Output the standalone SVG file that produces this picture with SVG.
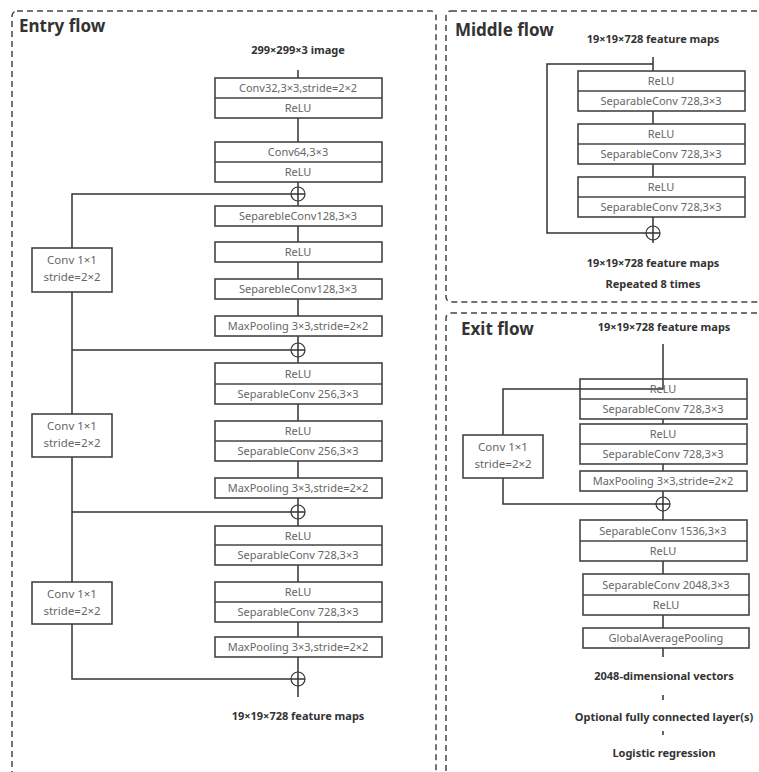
<svg xmlns="http://www.w3.org/2000/svg" width="759" height="772" viewBox="0 0 759 772">
  <style>
    .panel { fill: none; stroke: #444; stroke-width: 1.5; stroke-dasharray: 6 4; }
    .title { font-family: "Noto Sans", "Open Sans", sans-serif; font-weight: bold; font-size: 17px; fill: #333; }
    .lbl { font-family: "Noto Sans", "Open Sans", sans-serif; font-weight: bold; font-size: 11px; fill: #333; text-anchor: middle; }
    .box { fill: #fff; stroke: #444; stroke-width: 1.6; }
    .sep { stroke: #444; stroke-width: 1.6; }
    .t { font-family: "Noto Sans", "Open Sans", sans-serif; font-size: 11px; fill: #666; text-anchor: middle; }
    .t2 { font-family: "Noto Sans", "Open Sans", sans-serif; font-size: 11.5px; fill: #666; text-anchor: middle; }
    .wire { fill: none; stroke: #333; stroke-width: 1.5; }
    .add { fill: none; stroke: #333; stroke-width: 1.2; }
  </style>

  <!-- panels -->
  <rect class="panel" x="12" y="11" width="424" height="800" rx="5"/>
  <rect class="panel" x="446" y="11" width="330" height="291" rx="5"/>
  <rect class="panel" x="446" y="313" width="330" height="500" rx="5"/>

  <text class="title" x="19" y="32">Entry flow</text>
  <text class="title" x="455" y="36">Middle flow</text>
  <text class="title" x="461" y="335">Exit flow</text>

  <text class="lbl" x="298" y="54">299×299×3 image</text>
  <text class="lbl" x="298" y="720">19×19×728 feature maps</text>
  <text class="lbl" x="653" y="43">19×19×728 feature maps</text>
  <text class="lbl" x="653" y="267">19×19×728 feature maps</text>
  <text class="lbl" x="653" y="288">Repeated 8 times</text>
  <text class="lbl" x="664" y="331">19×19×728 feature maps</text>
  <text class="lbl" x="664" y="680">2048-dimensional vectors</text>
  <text class="lbl" x="664" y="721">Optional fully connected layer(s)</text>
  <text class="lbl" x="664" y="757">Logistic regression</text>

  <!-- connectors -->
  <g id="connectors">
    <!-- entry main column -->
    <path class="wire" d="M298 70V78 M298 118V142 M298 182V206 M298 226V242 M298 262V279 M298 299V316 M298 336V363 M298 404V421 M298 461V478 M298 498V526 M298 565V582 M298 622V637 M298 657V697"/>
    <!-- entry shortcuts -->
    <path class="wire" d="M305 194H72V248 M72 292V350H305 M72 350V414 M72 457V512H305 M72 512V582 M72 624V679H305"/>
    <circle class="add" cx="298" cy="194" r="7"/>
    <circle class="add" cx="298" cy="350" r="7"/>
    <circle class="add" cx="298" cy="512" r="7"/>
    <circle class="add" cx="298" cy="679" r="7"/>

    <!-- middle -->
    <path class="wire" d="M653 57V71 M653 111V124 M653 164V177 M653 217V243"/>
    <path class="wire" d="M653 64H547V233H660"/>
    <circle class="add" cx="653" cy="233" r="7"/>

    <!-- exit -->
    <path class="wire" d="M663 419V424 M663 464V471 M663 491V520 M663 561V574 M663 615V628 M663 648V657 M663 695V700 M663 731V735"/>
    <path class="wire" d="M503 435V389H663V344 M503 478V504H670"/>
    <circle class="add" cx="663" cy="504" r="7"/>
  </g>

  <!-- entry flow nodes -->
  <g id="conv32">
    <rect class="box" x="215" y="78" width="167" height="40"/>
    <line class="sep" x1="215" y1="98" x2="382" y2="98"/>
    <text class="t" x="298" y="92">Conv32,3×3,stride=2×2</text>
    <text class="t" x="298" y="112">ReLU</text>
  </g>
  <g id="conv64">
    <rect class="box" x="215" y="142" width="167" height="40"/>
    <line class="sep" x1="215" y1="162" x2="382" y2="162"/>
    <text class="t" x="298" y="156">Conv64,3×3</text>
    <text class="t" x="298" y="176">ReLU</text>
  </g>
  <g id="sep128a">
    <rect class="box" x="215" y="206" width="167" height="20"/>
    <text class="t" x="298" y="220">SeparebleConv128,3×3</text>
  </g>
  <g id="relu128">
    <rect class="box" x="215" y="242" width="167" height="20"/>
    <text class="t" x="298" y="256">ReLU</text>
  </g>
  <g id="sep128b">
    <rect class="box" x="215" y="279" width="167" height="20"/>
    <text class="t" x="298" y="293">SeparebleConv128,3×3</text>
  </g>
  <g id="pool1">
    <rect class="box" x="215" y="316" width="167" height="20"/>
    <text class="t" x="298" y="330">MaxPooling 3×3,stride=2×2</text>
  </g>
  <g id="sep256a">
    <rect class="box" x="215" y="363" width="167" height="41"/>
    <line class="sep" x1="215" y1="384" x2="382" y2="384"/>
    <text class="t" x="298" y="378">ReLU</text>
    <text class="t" x="298" y="398">SeparableConv 256,3×3</text>
  </g>
  <g id="sep256b">
    <rect class="box" x="215" y="421" width="167" height="40"/>
    <line class="sep" x1="215" y1="441" x2="382" y2="441"/>
    <text class="t" x="298" y="435">ReLU</text>
    <text class="t" x="298" y="455">SeparableConv 256,3×3</text>
  </g>
  <g id="pool2">
    <rect class="box" x="215" y="478" width="167" height="20"/>
    <text class="t" x="298" y="492">MaxPooling 3×3,stride=2×2</text>
  </g>
  <g id="sep728a">
    <rect class="box" x="215" y="526" width="167" height="39"/>
    <line class="sep" x1="215" y1="545" x2="382" y2="545"/>
    <text class="t" x="298" y="540">ReLU</text>
    <text class="t" x="298" y="559">SeparableConv 728,3×3</text>
  </g>
  <g id="sep728b">
    <rect class="box" x="215" y="582" width="167" height="40"/>
    <line class="sep" x1="215" y1="602" x2="382" y2="602"/>
    <text class="t" x="298" y="596">ReLU</text>
    <text class="t" x="298" y="616">SeparableConv 728,3×3</text>
  </g>
  <g id="pool3">
    <rect class="box" x="215" y="637" width="167" height="20"/>
    <text class="t" x="298" y="651">MaxPooling 3×3,stride=2×2</text>
  </g>
  <g id="skip1">
    <rect class="box" x="32" y="248" width="80" height="44"/>
    <text class="t2" x="72" y="264">Conv 1×1</text>
    <text class="t2" x="72" y="281">stride=2×2</text>
  </g>
  <g id="skip2">
    <rect class="box" x="32" y="414" width="80" height="43"/>
    <text class="t2" x="72" y="430">Conv 1×1</text>
    <text class="t2" x="72" y="447">stride=2×2</text>
  </g>
  <g id="skip3">
    <rect class="box" x="32" y="582" width="80" height="42"/>
    <text class="t2" x="72" y="598">Conv 1×1</text>
    <text class="t2" x="72" y="615">stride=2×2</text>
  </g>

  <!-- middle flow nodes -->
  <g id="mid1">
    <rect class="box" x="578" y="71" width="167" height="40"/>
    <line class="sep" x1="578" y1="91" x2="745" y2="91"/>
    <text class="t" x="661" y="85">ReLU</text>
    <text class="t" x="661" y="105">SeparableConv 728,3×3</text>
  </g>
  <g id="mid2">
    <rect class="box" x="578" y="124" width="167" height="40"/>
    <line class="sep" x1="578" y1="144" x2="745" y2="144"/>
    <text class="t" x="661" y="138">ReLU</text>
    <text class="t" x="661" y="158">SeparableConv 728,3×3</text>
  </g>
  <g id="mid3">
    <rect class="box" x="578" y="177" width="167" height="40"/>
    <line class="sep" x1="578" y1="197" x2="745" y2="197"/>
    <text class="t" x="661" y="191">ReLU</text>
    <text class="t" x="661" y="211">SeparableConv 728,3×3</text>
  </g>

  <!-- exit flow nodes -->
  <g id="exit1">
    <rect class="box" x="580" y="379" width="167" height="40" fill-opacity="0"/>
    <line class="sep" x1="580" y1="399" x2="747" y2="399"/>
    <text class="t" x="663" y="393">ReLU</text>
    <text class="t" x="663" y="413">SeparableConv 728,3×3</text>
  </g>
  <g id="exit2">
    <rect class="box" x="580" y="424" width="167" height="40"/>
    <line class="sep" x1="580" y1="444" x2="747" y2="444"/>
    <text class="t" x="663" y="438">ReLU</text>
    <text class="t" x="663" y="458">SeparableConv 728,3×3</text>
  </g>
  <g id="exitpool">
    <rect class="box" x="580" y="471" width="167" height="20"/>
    <text class="t" x="663" y="485">MaxPooling 3×3,stride=2×2</text>
  </g>
  <g id="exitskip">
    <rect class="box" x="463" y="435" width="80" height="43"/>
    <text class="t2" x="503" y="451">Conv 1×1</text>
    <text class="t2" x="503" y="468">stride=2×2</text>
  </g>
  <g id="sep1536">
    <rect class="box" x="580" y="520" width="167" height="41"/>
    <line class="sep" x1="580" y1="541" x2="747" y2="541"/>
    <text class="t" x="663" y="535">SeparableConv 1536,3×3</text>
    <text class="t" x="663" y="555">ReLU</text>
  </g>
  <g id="sep2048">
    <rect class="box" x="583" y="574" width="166" height="41"/>
    <line class="sep" x1="583" y1="595" x2="749" y2="595"/>
    <text class="t" x="666" y="589">SeparableConv 2048,3×3</text>
    <text class="t" x="666" y="609">ReLU</text>
  </g>
  <g id="gap">
    <rect class="box" x="583" y="628" width="166" height="20"/>
    <text class="t" x="666" y="642">GlobalAveragePooling</text>
  </g>
</svg>
